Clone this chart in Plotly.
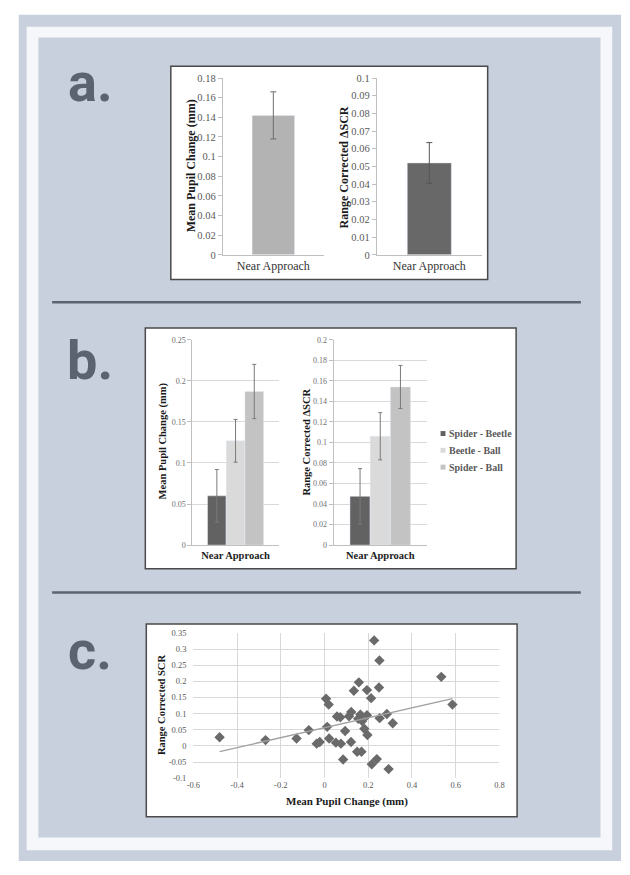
import numpy as np
import plotly.graph_objects as go

W, H = 630, 875

#@ Panel a data
a_cat = ['Near Approach']
a_pupil = [0.142]
a_pupil_err = [0.024]
a_scr = [0.052]
a_scr_err = [0.0115]

#@ Panel b data
b_groups = ['Spider - Beetle', 'Beetle - Ball', 'Spider - Ball']
b_colors = ['#626262', '#dadada', '#c3c3c3']
b_pupil = [0.060, 0.127, 0.187]
b_pupil_err = [0.032, 0.026, 0.033]
b_scr = [0.0475, 0.106, 0.154]
b_scr_err = [0.027, 0.023, 0.021]

#@ Panel c data
c_pupil = [-0.48, -0.27, -0.128, -0.072, -0.036, -0.022, 0.007, 0.019, 0.012, 0.021,
           0.057, 0.072, 0.052, 0.075, 0.085, 0.094, 0.112, 0.122, 0.121, 0.134,
           0.149, 0.157, 0.154, 0.164, 0.169, 0.172, 0.182, 0.194, 0.194, 0.196,
           0.213, 0.216, 0.227, 0.239, 0.249, 0.251, 0.252, 0.285, 0.293, 0.312,
           0.534, 0.585]
c_scr = [0.027, 0.018, 0.023, 0.049, 0.007, 0.012, 0.146, 0.128, 0.059, 0.023,
         0.091, 0.089, 0.010, 0.007, -0.042, 0.046, 0.092, 0.105, 0.012, 0.171,
         -0.018, 0.197, 0.084, 0.097, -0.018, 0.077, 0.053, 0.095, 0.173, 0.034,
         0.148, -0.057, 0.327, -0.041, 0.181, 0.265, 0.086, 0.099, -0.072, 0.070,
         0.214, 0.128]
c_xticks = [-0.6, -0.4, -0.2, 0, 0.2, 0.4, 0.6, 0.8]
c_xlabels = ['-0.6', '-0.4', '-0.2', '0', '0.2', '0.4', '0.6', '0.8']
c_yticks = [-0.1, -0.05, 0, 0.05, 0.1, 0.15, 0.2, 0.25, 0.3, 0.35]
c_ylabels = ['-0.1', '-0.05', '0', '0.05', '0.1', '0.15', '0.2', '0.25', '0.3', '0.35']


def fx(x):
    return x / W


def fy(y):
    return 1 - y / H


SERIF = 'Liberation Serif, Times New Roman, serif'
BLUE = '#c8d0dd'
INK = '#5b6270'

fig = go.Figure()

#$ Panel a bars
fig.add_trace(go.Bar(x=a_cat, y=a_pupil, width=0.42, marker_color='#b3b3b3',
                     error_y=dict(type='data', array=a_pupil_err, color='#6e6e6e', thickness=1, width=3),
                     showlegend=False, xaxis='x', yaxis='y'))
fig.add_trace(go.Bar(x=a_cat, y=a_scr, width=0.42, marker_color='#686868',
                     error_y=dict(type='data', array=a_scr_err, color='#555555', thickness=1, width=3),
                     showlegend=False, xaxis='x2', yaxis='y2'))

#$ Panel b grouped bars
for i, g in enumerate(b_groups):
    fig.add_trace(go.Bar(x=a_cat, y=[b_pupil[i]], name=g, marker_color=b_colors[i],
                         error_y=dict(type='data', array=[b_pupil_err[i]], color='#7a7a7a', thickness=1, width=2),
                         showlegend=False, xaxis='x3', yaxis='y3'))
    fig.add_trace(go.Bar(x=a_cat, y=[b_scr[i]], name=g, marker_color=b_colors[i],
                         error_y=dict(type='data', array=[b_scr_err[i]], color='#7a7a7a', thickness=1, width=2),
                         showlegend=False, xaxis='x4', yaxis='y4'))

#$ Panel c scatter with linear trendline
fig.add_trace(go.Scatter(x=c_pupil, y=c_scr, mode='markers', showlegend=False,
                         marker=dict(symbol='diamond', size=8, color='#6a6a6a'),
                         xaxis='x5', yaxis='y5'))
slope, icpt = np.polyfit(c_pupil, c_scr, 1)
tx = np.array([min(c_pupil), max(c_pupil)])
fig.add_trace(go.Scatter(x=tx, y=slope * tx + icpt, mode='lines', showlegend=False,
                         line=dict(color='#a0a0a0', width=1.3), xaxis='x5', yaxis='y5'))

#@ Frame shapes
shapes = []
def rect(x0, y0, x1, y1, fill, line=None, lw=0):
    shapes.append(dict(type='rect', xref='paper', yref='paper', layer='below',
                       x0=fx(x0), x1=fx(x1), y0=fy(y1), y1=fy(y0), fillcolor=fill,
                       line=dict(color=line or fill, width=lw)))

rect(12, 10, 626, 867, BLUE)
rect(20, 22, 617, 856, '#f5f7fb')
rect(32, 33, 605, 843, BLUE)
rect(167, 62, 490, 278, 'white', '#4a4a4a', 1.5)
rect(141, 327, 519, 571, 'white', '#4a4a4a', 1.5)
rect(142, 627, 520, 822, 'white', '#4a4a4a', 1.5)
for yy in [301, 595]:
    shapes.append(dict(type='line', xref='paper', yref='paper', layer='below',
                       x0=fx(46), x1=fx(585), y0=fy(yy), y1=fy(yy),
                       line=dict(color='#5b6472', width=2.5)))

#@ Annotations: panel letters and axis titles
ann = []
for lab, yy in [('a.', 78), ('b.', 360), ('c.', 654)]:
    ann.append(dict(text=lab, x=fx(85), y=fy(yy), xref='paper', yref='paper', showarrow=False,
                    xanchor='center', yanchor='middle',
                    font=dict(family='Roboto', size=54, color=INK, weight='bold')))

def ytitle(t, x, y, size):
    ann.append(dict(text=t, x=fx(x), y=fy(y), xref='paper', yref='paper', showarrow=False,
                    textangle=-90, xanchor='center', yanchor='middle',
                    font=dict(family=SERIF, size=size, color='#1a1a1a', weight='bold')))

ytitle('Mean Pupil Change (mm)', 188, 163, 12)
ytitle('Range Corrected ΔSCR', 343, 164, 12)
ytitle('Mean Pupil Change (mm)', 160, 441, 10.5)
ytitle('Range Corrected ΔSCR', 305, 443, 10.5)
ytitle('Range Corrected SCR', 157, 709, 10.5)
ann.append(dict(text='Mean Pupil Change (mm)', x=fx(347), y=fy(807), xref='paper', yref='paper',
                showarrow=False, xanchor='center', yanchor='middle',
                font=dict(family=SERIF, size=11, color='#1a1a1a', weight='bold')))

#@ Legend for panel b (swatch + label)
for i, g in enumerate(b_groups):
    ly = 434 + i * 17
    shapes.append(dict(type='rect', xref='paper', yref='paper', x0=fx(442), x1=fx(447),
                       y0=fy(ly + 2.5), y1=fy(ly - 2.5), fillcolor=b_colors[i],
                       line=dict(width=0)))
    ann.append(dict(text=g, x=fx(449), y=fy(ly), xref='paper', yref='paper', showarrow=False,
                    xanchor='left', yanchor='middle',
                    font=dict(family=SERIF, size=10, color='#595959', weight='bold')))

#@ Axis styles
GRID = '#d9d9d9'
LINE = '#bfbfbf'
def ya(dom, rng, dt, size, grid, tcol):
    return dict(domain=dom, range=rng, dtick=dt, showgrid=grid, gridcolor=GRID, gridwidth=1,
                showline=True, linecolor=LINE, ticks='outside', ticklen=4, tickcolor=LINE,
                zeroline=False, fixedrange=True,
                tickfont=dict(family=SERIF, size=size, color=tcol))

def xa(dom, anchor, size, bold):
    return dict(domain=dom, anchor=anchor, showline=True, linecolor=LINE, ticks='',
                showgrid=False, zeroline=False,
                tickfont=dict(family=SERIF, size=size, color='#222222' if bold else '#333333',
                              weight='bold' if bold else 'normal'))

yd_a = [fy(253), fy(74)]
yd_b = [fy(547), fy(339)]

fig.update_layout(
    width=W, height=H, margin=dict(l=0, r=0, t=0, b=0),
    paper_bgcolor='white', plot_bgcolor='rgba(0,0,0,0)',
    barmode='group', bargap=0.35, bargroupgap=0, showlegend=False,
    shapes=shapes, annotations=ann,
    xaxis=xa([fx(220), fx(323)], 'y', 12, False),
    yaxis=ya(yd_a, [0, 0.18], 0.02, 10.5, False, '#595959') | dict(anchor='x'),
    xaxis2=xa([fx(377), fx(484)], 'y2', 12, False),
    yaxis2=ya(yd_a, [0, 0.1], 0.01, 10.5, False, '#595959') | dict(anchor='x2'),
    xaxis3=xa([fx(189), fx(277)], 'y3', 10.5, True),
    yaxis3=ya(yd_b, [0, 0.25], 0.05, 8, True, '#6f6f6f') | dict(anchor='x3'),
    xaxis4=xa([fx(333), fx(428)], 'y4', 10.5, True),
    yaxis4=ya(yd_b, [0, 0.2], 0.02, 8, True, '#6f6f6f') | dict(anchor='x4'),
    xaxis5=dict(domain=[fx(190), fx(502)], anchor='y5', range=[-0.6, 0.8],
                tickvals=c_xticks, ticktext=c_xlabels, showgrid=True, gridcolor=GRID,
                zeroline=False, showline=False, ticks='',
                tickfont=dict(family=SERIF, size=8.5, color='#595959')),
    yaxis5=dict(domain=[fy(783), fy(636)], anchor='x5', range=[-0.1, 0.35],
                tickvals=c_yticks, ticktext=c_ylabels, showgrid=True, gridcolor=GRID,
                zeroline=False, showline=False, ticks='', ticklabelstandoff=6,
                tickfont=dict(family=SERIF, size=8.5, color='#595959')),
)

fig.write_html("out.html", config={'displayModeBar': False},
               post_script="document.body.style.margin='0';document.body.style.overflow='hidden';")
